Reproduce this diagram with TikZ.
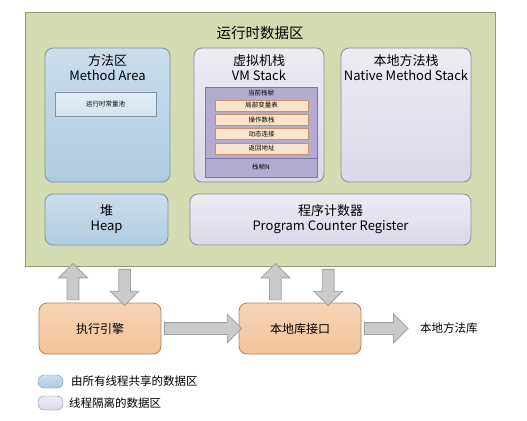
\documentclass[tikz,border=0pt]{standalone}
\usepackage{fontspec}
\setmainfont{Noto Sans CJK SC}
\usetikzlibrary{shapes.arrows,calc}

\definecolor{areafill}{HTML}{D3DCB1}
\definecolor{arealine}{HTML}{8D9A73}
\definecolor{sharedtop}{HTML}{CADDEC}
\definecolor{sharedbot}{HTML}{B0CBE1}
\definecolor{sharedline}{HTML}{7F93A6}
\definecolor{privtop}{HTML}{EEEBF4}
\definecolor{privbot}{HTML}{DCD7E8}
\definecolor{privline}{HTML}{8C8A98}
\definecolor{poolfill}{HTML}{E3ECF4}
\definecolor{framefill}{HTML}{B4ACD0}
\definecolor{frameline}{HTML}{7D75A6}
\definecolor{rowfill}{HTML}{FCE4CA}
\definecolor{rowline}{HTML}{C6926A}
\definecolor{enginetop}{HTML}{F9D5B5}
\definecolor{enginebot}{HTML}{F2C29A}
\definecolor{engineline}{HTML}{A98468}
\definecolor{arrowfill}{HTML}{CACACA}
\definecolor{arrowline}{HTML}{A2A2A2}

\tikzset{
  region/.style={rounded corners=8pt, line width=0.8pt, align=center,
    font=\fontsize{13pt}{15pt}\selectfont},
  shared/.style={region, draw=sharedline, top color=sharedtop, bottom color=sharedbot},
  private/.style={region, draw=privline, top color=privtop, bottom color=privbot},
  engine/.style={region, draw=engineline, top color=enginetop, bottom color=enginebot,
    minimum width=122, minimum height=51, font=\fontsize{12pt}{14pt}\selectfont},
  boxlabel/.style={align=center, font=\fontsize{13pt}{15pt}\selectfont},
  tiny label/.style={font=\fontsize{6.5pt}{7pt}\selectfont, inner sep=0pt},
  framerow/.style={draw=rowline, fill=rowfill, line width=0.6pt, minimum width=93,
    minimum height=11, inner sep=0pt, font=\fontsize{6.5pt}{7pt}\selectfont},
  fatarrow/.style={single arrow, draw=arrowline, fill=arrowfill, line width=0.8pt,
    inner sep=5.5pt, minimum width=0pt, single arrow head extend=8.5pt,
    single arrow tip angle=90, single arrow head indent=0pt},
  legend/.style={font=\fontsize{11.5pt}{13pt}\selectfont, anchor=west, inner sep=0pt}
}

% block arrow from #1 to #2
\newcommand{\fatlink}[2]{%
  \path let \p1=($(#2)-(#1)$), \n1={veclen(\x1,\y1)} in
    (#1) -- (#2) node[fatarrow, midway, sloped, minimum height=\n1] {};}

\begin{document}
\begin{tikzpicture}[x=1pt, y=-1pt]
\useasboundingbox (0,0) rectangle (527,420);

% Runtime data area
\node[draw=arealine, fill=areafill, line width=0.8pt, minimum width=470, minimum height=254] (runtime) at (260,139) {};
\node[boxlabel, font=\fontsize{14.5pt}{16pt}\selectfont] (runtimetitle) at (260,33) {运行时数据区};

% Method area
\node[shared, minimum width=125, minimum height=134] (method) at (107.5,115) {};
\node[boxlabel] (methodtitle) at (107.5,67.5) {方法区\\Method Area};
\node[draw=sharedline, line width=0.6pt, top color=poolfill, bottom color=sharedtop!80!white,
  minimum width=101, minimum height=24, tiny label] (pool) at (105.5,104) {运行时常量池};

% VM stack
\node[private, minimum width=130, minimum height=134] (vmstack) at (259,115) {};
\node[boxlabel] (vmtitle) at (259,67.5) {虚拟机栈\\VM Stack};
\node[draw=frameline, fill=framefill, line width=0.7pt, minimum width=112, minimum height=90] (frame) at (261,132) {};
\draw[frameline, line width=0.7pt] (frame.west |- 0,158) -- (frame.east |- 0,158);
\node[tiny label] (current) at (261,93) {当前栈帧};
\foreach \name/\y in {局部变量表/105.5, 操作数栈/119.8, 动态连接/134.1, 返回地址/148.4}
  \node[framerow] at (261.5,\y) {\name};
\node[tiny label] (frameN) at (261,167) {栈帧N};

% Native method stack
\node[private, minimum width=130, minimum height=134] (native) at (406,115) {};
\node[boxlabel] (nativetitle) at (406,67.5) {本地方法栈\\Native Method Stack};

% Heap and PC register
\node[shared, minimum width=123, minimum height=51] (heap) at (106.5,219.5) {堆\\Heap};
\node[private, minimum width=281, minimum height=51] (pcreg) at (330.5,219.5) {程序计数器\\Program Counter Register};

% Execution engine and native interface
\node[engine] (engine) at (100,328.5) {执行引擎};
\node[engine] (iface) at (300,328.5) {本地库接口};
\node[legend] (nativelib) at (420,328) {本地方法库};
\coordinate (libtip) at (405,328.5);

% Arrows
\coordinate (eup) at ($(engine.north west)!0.28!(engine.north east)$);
\coordinate (edown) at ($(engine.north west)!0.70!(engine.north east)$);
\coordinate (iup) at ($(iface.north west)!0.30!(iface.north east)$);
\coordinate (idown) at ($(iface.north west)!0.73!(iface.north east)$);
\fatlink{eup}{eup |- runtime.south}
\fatlink{edown |- runtime.south}{edown}
\fatlink{iup}{iup |- runtime.south}
\fatlink{idown |- runtime.south}{idown}
\fatlink{engine.east}{iface.west}
\fatlink{iface.east}{libtip}

% Legend
\node[draw=sharedline, top color=sharedtop, bottom color=sharedbot, rounded corners=6pt,
  minimum width=25, minimum height=13, inner sep=0pt] (keyshared) at (50.5,381.5) {};
\node[legend] (keysharedtext) at (71,381.5) {由所有线程共享的数据区};
\node[draw=privline, top color=privtop, bottom color=privbot, rounded corners=6pt,
  minimum width=25, minimum height=14, inner sep=0pt] (keyprivate) at (50.5,403) {};
\node[legend] (keyprivatetext) at (69,403) {线程隔离的数据区};
\end{tikzpicture}
\end{document}
